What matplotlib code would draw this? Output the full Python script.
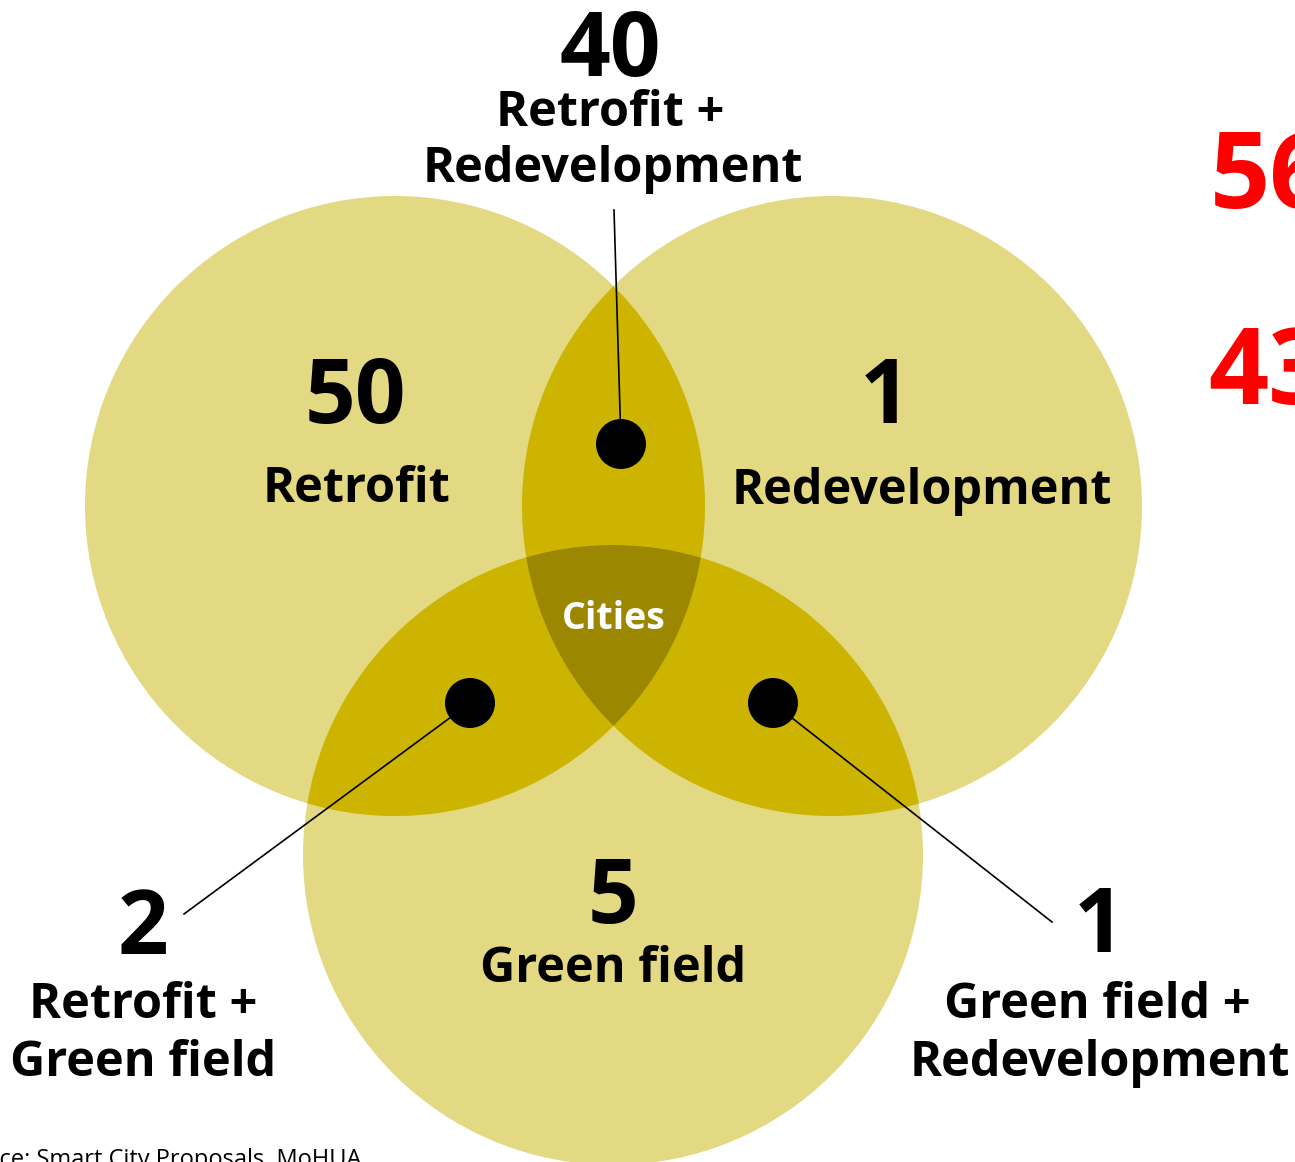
import numpy as np
import matplotlib.pyplot as plt
from matplotlib.patches import Circle, Polygon

plt.rcParams['font.family'] = ['Open Sans', 'DejaVu Sans']

# Círculos (centro x, centro y, raio) em pixels
circulos = {'Retrofit': (395, 506, 310),
            'Redevelopment': (832, 506, 310),
            'Green field': (613, 855, 310)}

# Contagens por região
contagens = {'Retrofit': '50', 'Redevelopment': '1', 'Green field': '5',
             'Retrofit + Redevelopment': '40', 'Retrofit + Green field': '2',
             'Green field + Redevelopment': '1'}
totais = ['56', '43']

cor_1 = '#e3d982'
cor_2 = '#ccb400'
cor_3 = '#9c8800'


def lente(c1, c2):
    # polígono da interseção de dois círculos
    x1, y1, r1 = c1
    x2, y2, r2 = c2
    t = np.linspace(0, 2 * np.pi, 2000)
    a = np.c_[x1 + r1 * np.cos(t), y1 + r1 * np.sin(t)]
    b = np.c_[x2 + r2 * np.cos(t), y2 + r2 * np.sin(t)]
    pa = a[(a[:, 0] - x2) ** 2 + (a[:, 1] - y2) ** 2 <= r2 ** 2]
    pb = b[(b[:, 0] - x1) ** 2 + (b[:, 1] - y1) ** 2 <= r1 ** 2]
    pts = np.vstack([pa, pb])
    cx, cy = pts.mean(axis=0)
    ang = np.arctan2(pts[:, 1] - cy, pts[:, 0] - cx)
    return pts[np.argsort(ang)]


fig = plt.figure(figsize=(12.95, 11.62), dpi=100)
ax = fig.add_axes([0, 0, 1, 1])
ax.set_xlim(0, 1295)
ax.set_ylim(1162, 0)
ax.axis('off')

R, D, G = circulos['Retrofit'], circulos['Redevelopment'], circulos['Green field']
for c in (R, D, G):
    ax.add_patch(Circle(c[:2], c[2], color=cor_1, lw=0))

for a, b in [(R, D), (R, G), (D, G)]:
    ax.add_patch(Polygon(lente(a, b), closed=True, color=cor_2, lw=0))

# interseção tripla
lente_rd = Polygon(lente(R, D), closed=True, transform=ax.transData, visible=False)
ax.add_patch(lente_rd)
tripla = Circle(G[:2], G[2], color=cor_3, lw=0)
ax.add_patch(tripla)
tripla.set_clip_path(lente_rd)

# linhas de chamada e pontos
ax.plot([614, 621], [210, 444], color='black', lw=1.2)
ax.plot([184, 470], [914, 703], color='black', lw=1.2)
ax.plot([1052, 773], [922, 703], color='black', lw=1.2)
for x, y in [(621, 444), (470, 703), (773, 703)]:
    ax.add_patch(Circle((x, y), 25, color='black', lw=0))

num = dict(fontsize=64, fontweight='bold', ha='center', va='center')
lab = dict(fontsize=35, fontweight='bold', ha='center', va='center')

ax.text(610, 53, contagens['Retrofit + Redevelopment'], **num)
ax.text(610, 114, 'Retrofit +', **lab)
ax.text(613, 170, 'Redevelopment', **lab)

ax.text(355, 400, contagens['Retrofit'], **num)
ax.text(357, 489, 'Retrofit', **lab)

ax.text(885, 400, contagens['Redevelopment'], **num)
ax.text(922, 491, 'Redevelopment', **lab)

ax.text(614, 619, 'Cities', fontsize=27, fontweight='bold', color='white',
        ha='center', va='center')

ax.text(613, 900, contagens['Green field'], **num)
ax.text(613, 969, 'Green field', **lab)

ax.text(143, 931, contagens['Retrofit + Green field'], **num)
ax.text(143, 1006, 'Retrofit +', **lab)
ax.text(143, 1064, 'Green field', **lab)

ax.text(1099, 929, contagens['Green field + Redevelopment'], **num)
ax.text(1097, 1006, 'Green field +', **lab)
ax.text(1100, 1064, 'Redevelopment', **lab)

# totais em vermelho (cortados na borda)
ax.text(1210, 180, totais[0], fontsize=76, fontweight='bold', color='red',
        ha='left', va='center')
ax.text(1208, 376, totais[1], fontsize=76, fontweight='bold', color='red',
        ha='left', va='center')

ax.text(362, 1148, 'Source: Smart City Proposals, MoHUA', fontsize=17,
        ha='right', va='top')

plt.savefig('out.png', dpi=100)
